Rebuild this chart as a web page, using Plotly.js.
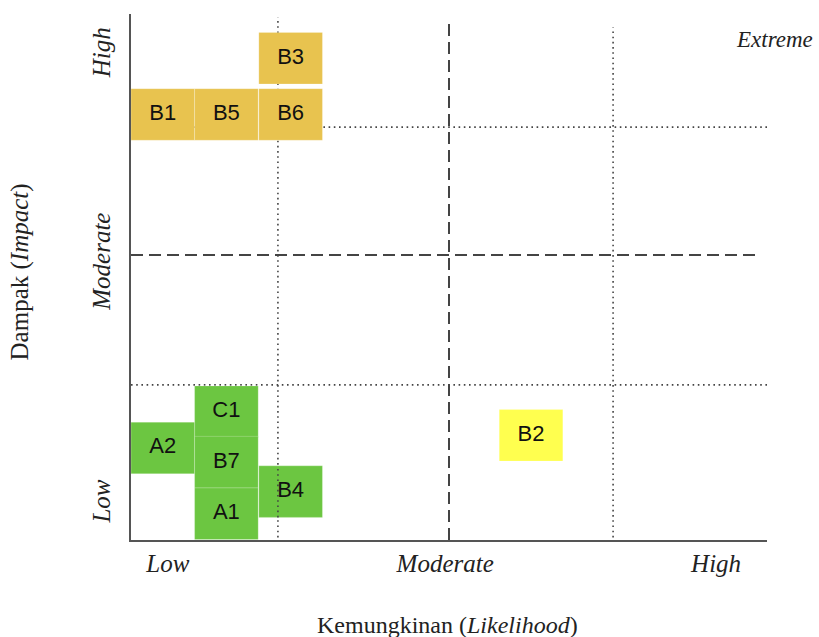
<!DOCTYPE html>
<html>
<head>
<meta charset="utf-8">
<script src="https://cdn.plot.ly/plotly-3.0.1.min.js"></script>
<style>html,body{margin:0;padding:0;background:#fff;}#chart{width:819px;height:637px;}</style>
</head>
<body>
<div id="chart"></div>
<script>
// ---- data ----
const riskCodes  = ['B3', 'B1', 'B5', 'B6', 'C1', 'A2', 'B7', 'A1', 'B4', 'B2'];
const likelihood = [2.51, 0.5, 1.5, 2.51, 1.5, 0.5, 1.5, 1.5, 2.51, 6.29];
const impact     = [9.16, 8.09, 8.09, 8.09, 2.44, 1.75, 1.48, 0.5, 0.92, 1.99];
const riskGroup  = ['B', 'B', 'B', 'B', 'G', 'G', 'G', 'G', 'G', 'Y'];

const xTickVals  = [0.58, 4.94, 9.2];
const xTickText  = ['Low', 'Moderate', 'High'];
const yTickVals  = [0.67, 5.23, 9.2];
const yTickText  = ['Low', 'Moderate', 'High'];

// zone boundaries (dashed = main split, dotted = sub splits)
const dashedX = [5.0];
const dashedY = [5.42];
const dottedX = [2.31, 7.58];
const dottedXTop = [9.94, 9.75];
const dottedY = [7.85, 2.95];

// ---- styles ----
const groupColor = {B: '#E8C34F', G: '#6CC641', Y: '#FFFF4F'};
const boxW = 1.0, boxH = 0.98;
const lineCol = '#444';
const serif = 'Liberation Serif, Times New Roman, serif';

const shapes = [];
dashedX.forEach(x => shapes.push({type:'line', xref:'x', yref:'y', x0:x, x1:x, y0:0, y1:9.85, layer:'below',
  line:{color:lineCol, width:2, dash:'12px,6px'}}));
dashedY.forEach(y => shapes.push({type:'line', xref:'x', yref:'y', x0:0, x1:9.86, y0:y, y1:y, layer:'below',
  line:{color:lineCol, width:2, dash:'12px,6px'}}));
dottedX.forEach((x, i) => shapes.push({type:'line', xref:'x', yref:'y', x0:x, x1:x, y0:-0.05, y1:dottedXTop[i], layer:'below',
  line:{color:lineCol, width:1.6, dash:'1.6px,3.6px'}}));
dottedY.forEach(y => shapes.push({type:'line', xref:'x', yref:'y', x0:0, x1:10, y0:y, y1:y, layer:'below',
  line:{color:lineCol, width:1.6, dash:'1.6px,3.6px'}}));

riskCodes.forEach((c, i) => shapes.push({type:'rect', xref:'x', yref:'y', layer:'below',
  x0: likelihood[i] - boxW/2, x1: likelihood[i] + boxW/2,
  y0: impact[i] - boxH/2, y1: impact[i] + boxH/2,
  fillcolor: groupColor[riskGroup[i]], line:{color:'rgba(255,255,255,0.22)', width:1}}));

// dotted line visible over B4
const b4 = riskCodes.indexOf('B4');
shapes.push({type:'line', xref:'x', yref:'y', x0:dottedX[0], x1:dottedX[0],
  y0: impact[b4] - boxH/2, y1: impact[b4] + boxH/2, layer:'above',
  line:{color:lineCol, width:1.6, dash:'1.6px,3.6px'}});

const trace = {
  type:'scatter', mode:'text', x: likelihood, y: impact, text: riskCodes,
  textposition:'middle center', hoverinfo:'none', cliponaxis:false,
  textfont:{family:'Liberation Sans, Arial, sans-serif', size:22, color:'#111'}
};

const layout = {
  width:819, height:637,
  margin:{l:131, r:52, t:14, b:97},
  paper_bgcolor:'#fff', plot_bgcolor:'#fff',
  showlegend:false,
  xaxis:{range:[0,10], showgrid:false, zeroline:false, showline:true, linecolor:'#555', linewidth:2,
    ticks:'', tickvals:xTickVals, ticktext:xTickText.map(t => '<i>'+t+'</i>'),
    tickfont:{family:serif, size:25, color:'#222'}, ticklabelstandoff:0, fixedrange:true},
  yaxis:{range:[0,10], showgrid:false, zeroline:false, showline:true, linecolor:'#555', linewidth:2,
    ticks:'', tickvals:yTickVals, ticktext:yTickText.map(t => '<i>'+t+'</i>'), tickangle:-90,
    tickfont:{family:serif, size:25, color:'#222'}, ticklabelstandoff:9, fixedrange:true},
  shapes: shapes,
  annotations:[
    {xref:'paper', yref:'paper', x:0.497, y:-0.1616, yanchor:'middle', xanchor:'center', showarrow:false,
     text:'Kemungkinan (<i>Likelihood</i>)', font:{family:serif, size:24, color:'#222'}},
    {xref:'paper', yref:'paper', x:-0.175, y:0.51, xanchor:'center', yanchor:'middle', showarrow:false, textangle:-90,
     text:'Dampak (<i>Impact</i>)', font:{family:serif, size:25, color:'#222'}},
    {xref:'paper', yref:'paper', x:1.0755, y:0.9506, xanchor:'right', yanchor:'middle', showarrow:false,
     text:'<i>Extreme</i>', font:{family:serif, size:23, color:'#222'}}
  ]
};

Plotly.newPlot('chart', [trace], layout, {staticPlot:true, displayModeBar:false});
</script>
</body>
</html>
